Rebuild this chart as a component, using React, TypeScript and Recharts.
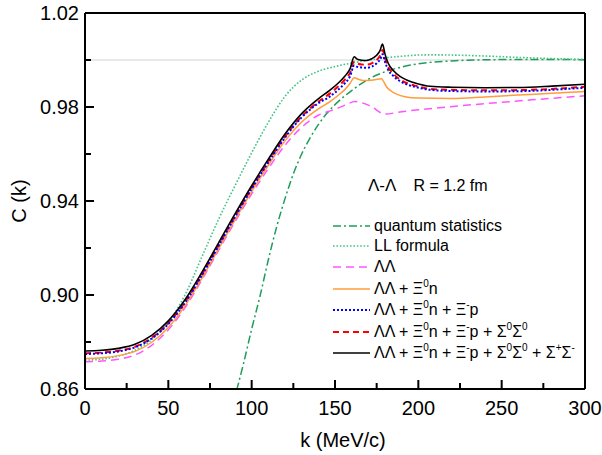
import React from 'react';
import { LineChart, Line, XAxis, YAxis, ReferenceLine, Legend } from 'recharts';

// k grid shared by the three fully coupled curves
const kBase = [0, 10, 20, 30, 40, 50, 60, 70, 80, 90, 100, 110, 120, 130, 140, 147, 152, 156, 159, 161.5, 163, 166, 169, 172, 175, 177, 178.5, 180, 182, 185, 189, 193, 199, 207, 220, 240, 260, 280, 300];
const cAll = [0.8762, 0.8765, 0.8773, 0.8790, 0.8828, 0.8890, 0.8980, 0.9095, 0.9220, 0.9345, 0.9465, 0.9578, 0.9685, 0.9772, 0.9835, 0.9872, 0.9902, 0.9932, 0.9962, 1.0014, 1.0005, 0.9999, 0.9998, 1.0005, 1.0020, 1.0040, 1.0068, 1.0025, 0.9985, 0.9955, 0.9930, 0.9915, 0.9900, 0.9888, 0.9884, 0.9882, 0.9883, 0.9889, 0.9897];
const cSigma0 = [0.8752, 0.8755, 0.8763, 0.8780, 0.8818, 0.8880, 0.8970, 0.9085, 0.9210, 0.9335, 0.9455, 0.9568, 0.9674, 0.9760, 0.9822, 0.9858, 0.9888, 0.9917, 0.9945, 0.9993, 0.9986, 0.9981, 0.9980, 0.9986, 1.0000, 1.0018, 1.0043, 1.0008, 0.9970, 0.9942, 0.9917, 0.9902, 0.9889, 0.9877, 0.9873, 0.9871, 0.9872, 0.9877, 0.9886];
const cXip = [0.8749, 0.8752, 0.8760, 0.8777, 0.8815, 0.8877, 0.8967, 0.9082, 0.9207, 0.9332, 0.9452, 0.9564, 0.9670, 0.9756, 0.9816, 0.9845, 0.9874, 0.9902, 0.9930, 0.9977, 0.9972, 0.9968, 0.9967, 0.9972, 0.9986, 1.0002, 1.0025, 0.9992, 0.9957, 0.9932, 0.9910, 0.9896, 0.9884, 0.9873, 0.9868, 0.9866, 0.9867, 0.9873, 0.9882];

const kXin = [0, 10, 20, 30, 40, 50, 60, 70, 80, 90, 100, 110, 120, 130, 140, 147, 152, 156, 159, 161.5, 164, 167, 170, 174, 178, 179, 181, 184, 187, 192, 200, 220, 240, 260, 280, 300];
const cXin = [0.8730, 0.8733, 0.8742, 0.8760, 0.8799, 0.8862, 0.8954, 0.9070, 0.9195, 0.9320, 0.9440, 0.9552, 0.9656, 0.9736, 0.9792, 0.9823, 0.9850, 0.9875, 0.9900, 0.9925, 0.9918, 0.9913, 0.9913, 0.9916, 0.9920, 0.9910, 0.9885, 0.9866, 0.9855, 0.9844, 0.9838, 0.9836, 0.9843, 0.9851, 0.9858, 0.9866];

const kLL = [0, 10, 20, 30, 40, 50, 60, 70, 80, 90, 100, 110, 120, 130, 140, 150, 156, 162, 171, 180, 190, 200, 225, 250, 275, 300];
const cLL = [0.8716, 0.8719, 0.8727, 0.8745, 0.8786, 0.8852, 0.8946, 0.9063, 0.9188, 0.9312, 0.9430, 0.9538, 0.9637, 0.9714, 0.9765, 0.9790, 0.9808, 0.9823, 0.9805, 0.9770, 0.9780, 0.9788, 0.9805, 0.9820, 0.9834, 0.9848];

const kFormula = [0, 10, 20, 30, 40, 50, 60, 70, 80, 90, 100, 110, 120, 130, 140, 150, 160, 170, 180, 190, 200, 210, 220, 240, 260, 280, 300];
const cFormula = [0.8723, 0.8727, 0.8740, 0.8765, 0.8810, 0.8885, 0.9000, 0.9160, 0.9320, 0.9465, 0.9605, 0.9735, 0.9845, 0.9915, 0.9952, 0.9972, 0.9987, 0.9999, 1.0009, 1.0016, 1.0021, 1.0022, 1.0021, 1.0017, 1.0011, 1.0006, 1.0003];

const kQS = [91, 95, 100, 105, 110, 115, 120, 125, 130, 135, 140, 145, 150, 160, 170, 180, 190, 200, 220, 240, 260, 280, 300];
const cQS = [0.8595, 0.8705, 0.8855, 0.8995, 0.9150, 0.9290, 0.9410, 0.9515, 0.9600, 0.9668, 0.9725, 0.9772, 0.9810, 0.9870, 0.9918, 0.9950, 0.9970, 0.9984, 0.9996, 1.0001, 1.0002, 1.0002, 1.0001];

const xTicks = [0, 25, 50, 75, 100, 125, 150, 175, 200, 225, 250, 275, 300];
const yTicks = [0.86, 0.88, 0.90, 0.92, 0.94, 0.96, 0.98, 1.00, 1.02];

const FONT = '"Liberation Sans", Arial, sans-serif';

const pts = (ks: number[], cs: number[]) => ks.map((k, i) => ({ k, c: cs[i] }));

const Sup = ({ children }: { children: React.ReactNode }) => (
    <span style={{ fontSize: 10, position: 'relative', top: -7 }}>{children}</span>
);

const series = [
    { id: 'qs', data: pts(kQS, cQS), color: '#1d9e57', dash: '8 3 2 3', width: 1.5, label: <>quantum statistics</> },
    { id: 'll', data: pts(kFormula, cFormula), color: '#45c487', dash: '1.6 1.8', width: 1.6, label: <>LL formula</> },
    { id: 'lam', data: pts(kLL, cLL), color: '#ff55ff', dash: '8 5', width: 1.5, label: <>ΛΛ</> },
    { id: 'xin', data: pts(kXin, cXin), color: '#ff9c3c', dash: undefined, width: 1.5, label: <>ΛΛ + Ξ<Sup>0</Sup>n</> },
    { id: 'xip', data: pts(kBase, cXip), color: '#0000ff', dash: '2 2', width: 2, label: <>ΛΛ + Ξ<Sup>0</Sup>n + Ξ<Sup>-</Sup>p</> },
    { id: 's0', data: pts(kBase, cSigma0), color: '#ff0000', dash: '6 4', width: 2, label: <>ΛΛ + Ξ<Sup>0</Sup>n + Ξ<Sup>-</Sup>p + Σ<Sup>0</Sup>Σ<Sup>0</Sup></> },
    { id: 'all', data: pts(kBase, cAll), color: '#000000', dash: undefined, width: 1.6, label: <>ΛΛ + Ξ<Sup>0</Sup>n + Ξ<Sup>-</Sup>p + Σ<Sup>0</Sup>Σ<Sup>0</Sup> + Σ<Sup>+</Sup>Σ<Sup>-</Sup></> },
];

// draw order: red and blue under black
const drawOrder = ['qs', 'll', 'lam', 'xin', 's0', 'xip', 'all'];

const isMajorX = (v: number) => v % 50 === 0;
const isMajorY = (v: number) => Math.round(v * 100) % 4 === 2;

const BottomTick = (p: any) => {
    const y0 = p.y - 12;
    const v = p.payload.value;
    return (
        <g>
            <line x1={p.x} x2={p.x} y1={y0} y2={y0 - (isMajorX(v) ? 9 : 6)} stroke="#000" strokeWidth={2} />
            {isMajorX(v) && (
                <text x={p.x} y={p.y} dy="0.71em" textAnchor="middle" fontSize={20} fontFamily={FONT} fill="#000">{v}</text>
            )}
        </g>
    );
};

const TopTick = (p: any) => (
    <line x1={p.x} x2={p.x} y1={p.y} y2={p.y + (isMajorX(p.payload.value) ? 9 : 6)} stroke="#000" strokeWidth={2} />
);

const LeftTick = (p: any) => {
    const x0 = p.x + 6;
    const v = p.payload.value;
    return (
        <g>
            <line x1={x0} x2={x0 + (isMajorY(v) ? 9 : 6)} y1={p.y} y2={p.y} stroke="#000" strokeWidth={2} />
            {isMajorY(v) && (
                <text x={p.x} y={p.y} dy="0.36em" textAnchor="end" fontSize={20} fontFamily={FONT} fill="#000">{v.toFixed(2)}</text>
            )}
        </g>
    );
};

const RightTick = (p: any) => (
    <line x1={p.x} x2={p.x - (isMajorY(p.payload.value) ? 9 : 6)} y1={p.y} y2={p.y} stroke="#000" strokeWidth={2} />
);

const LegendBox = () => (
    <div style={{ fontFamily: FONT, fontSize: 16, color: '#000' }}>
        {series.map((s, i) => (
            <div key={s.id} style={{ display: 'flex', alignItems: 'center', height: i === 0 ? 19 : 21.5, whiteSpace: 'nowrap' }}>
                <svg width={37} height={8} style={{ marginRight: 4 }}>
                    <line x1={0} x2={37} y1={4} y2={4} stroke={s.color} strokeWidth={s.width} strokeDasharray={s.dash} />
                </svg>
                <span>{s.label}</span>
            </div>
        ))}
    </div>
);

export default function App() {
    return (
        <div style={{ position: 'absolute', left: 0, top: 0, width: 602, height: 455, background: '#fff' }}>
            <LineChart width={602} height={455} margin={{ top: 12, right: 16, bottom: 0, left: 0 }}>
                <XAxis
                    type="number" dataKey="k" domain={[0, 300]} ticks={xTicks} interval={0}
                    height={66} tickSize={0} tickMargin={12} tickLine={false}
                    axisLine={{ stroke: '#000', strokeWidth: 2 }}
                    tick={(p: any) => <BottomTick {...p} />}
                    label={{ value: 'k (MeV/c)', position: 'insideBottom', offset: 8, dx: 8, fontSize: 20, fontFamily: FONT, fill: '#000' }}
                />
                <XAxis
                    xAxisId="top" orientation="top" type="number" dataKey="k" domain={[0, 300]} ticks={xTicks} interval={0}
                    height={1} tickSize={0} tickMargin={0} tickLine={false}
                    axisLine={{ stroke: '#000', strokeWidth: 2 }}
                    tick={(p: any) => <TopTick {...p} />}
                />
                <YAxis
                    type="number" domain={[0.86, 1.02]} ticks={yTicks} interval={0} allowDataOverflow
                    width={85} tickSize={0} tickMargin={6} tickLine={false}
                    axisLine={{ stroke: '#000', strokeWidth: 2 }}
                    tick={(p: any) => <LeftTick {...p} />}
                    label={{ value: 'C (k)', angle: -90, position: 'insideLeft', offset: 19, fontSize: 20, fontFamily: FONT, fill: '#000', style: { textAnchor: 'middle' } }}
                />
                <YAxis
                    yAxisId="right" orientation="right" type="number" domain={[0.86, 1.02]} ticks={yTicks} interval={0}
                    width={1} tickSize={0} tickMargin={0} tickLine={false}
                    axisLine={{ stroke: '#000', strokeWidth: 2 }}
                    tick={(p: any) => <RightTick {...p} />}
                />
                <ReferenceLine y={1} stroke="#d3d3d3" strokeWidth={1} />
                {drawOrder.map(id => {
                    const s = series.find(x => x.id === id)!;
                    return (
                        <Line
                            key={s.id} data={s.data} dataKey="c" type="monotone"
                            stroke={s.color} strokeWidth={s.width} strokeDasharray={s.dash}
                            dot={false} activeDot={false} isAnimationActive={false}
                        />
                    );
                })}
                <Legend
                    layout="vertical" align="center" verticalAlign="middle"
                    wrapperStyle={{ left: 333, top: 216, width: 260 }}
                    content={() => <LegendBox />}
                />
            </LineChart>
            <div style={{ position: 'absolute', left: 368, top: 176, fontFamily: FONT, fontSize: 16, whiteSpace: 'nowrap' }}>
                <span style={{ fontSize: 17 }}>Λ-Λ</span>
                <span style={{ marginLeft: 17 }}>R = 1.2 fm</span>
            </div>
        </div>
    );
}
